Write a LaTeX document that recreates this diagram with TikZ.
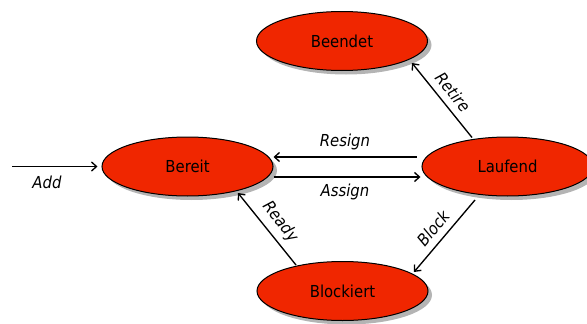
\documentclass[tikz,border=0pt]{standalone}
\usepackage{fontspec}
\setmainfont{DejaVu Sans Condensed}
\usetikzlibrary{arrows.meta,shapes.geometric,shadows}
\definecolor{statered}{RGB}{240,38,0}
\definecolor{shadowgray}{RGB}{180,180,180}
\begin{document}
\begin{tikzpicture}[x=1pt,y=-1pt,
  state/.style={ellipse,draw=black,line width=1pt,fill=statered,
    minimum width=171pt,minimum height=59pt,inner sep=0pt,
    font=\fontsize{16.5}{18}\selectfont,
    drop shadow={shadow xshift=4pt,shadow yshift=-4pt,fill=shadowgray,opacity=1}},
  arr/.style={line width=1.35pt,-{Straight Barb[length=5pt,width=9pt]}},
  lbl/.style={font=\fontsize{16.5}{18}\itshape\selectfont,inner sep=0pt}]
\useasboundingbox (0,0) rectangle (587,324);
\clip (0,0) rectangle (587,324);
\node[state] (beendet) at (342,41) {Beendet};
\node[state] (bereit) at (187.5,166.5) {Bereit};
\node[state] (laufend) at (507.5,166.5) {Laufend};
\node[state] (blockiert) at (342.5,291) {Blockiert};
\coordinate (addstart) at (12,166.5);
\draw[arr] (addstart) -- ([xshift=-4pt]bereit.west);
\draw[arr] ([xshift=-5pt,yshift=9.5pt]laufend.west) -- ([yshift=9.5pt]bereit.east);
\draw[arr] ([yshift=-10.5pt]bereit.east) -- ([xshift=-1pt,yshift=-10.5pt]laufend.west);
\draw[arr] ([shift={(-35.5,-29)}]laufend.center) -- ([shift={(70,22)}]beendet.center);
\draw[arr] ([shift={(-46.5,-26)}]blockiert.center) -- ([shift={(50.5,26.5)}]bereit.center);
\draw[arr] ([shift={(-32.5,33.5)}]laufend.center) -- ([shift={(71.5,-19)}]blockiert.center);
\node[lbl] (ladd) at (47,182) {Add};
\node[lbl] (lresign) at (345,142) {Resign};
\node[lbl] (lassign) at (345,192) {Assign};
\node[lbl,rotate=-51] (lretire) at (453,92) {Retire};
\node[lbl,rotate=-52] (lready) at (280,222) {Ready};
\node[lbl,rotate=50] (lblock) at (433,228) {Block};
\end{tikzpicture}
\end{document}
